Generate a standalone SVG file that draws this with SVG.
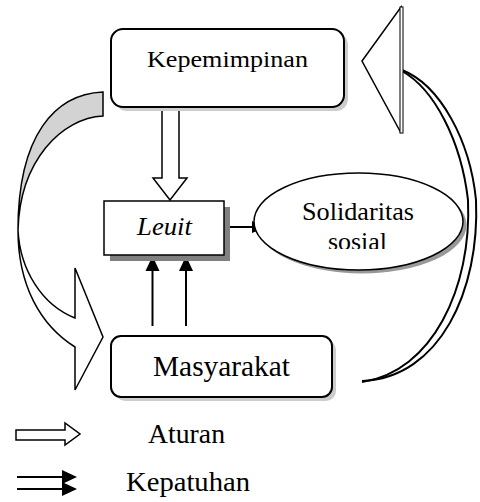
<svg xmlns="http://www.w3.org/2000/svg" width="480" height="502" viewBox="0 0 480 502">
<style>
.box{fill:#fff;stroke:#000;stroke-width:2}
.ln{fill:none;stroke:#000;stroke-width:2}
.hollow{fill:#fff;stroke:#000;stroke-width:1.5;stroke-linejoin:miter}
</style>
<defs>
<clipPath id="clipSosial"><rect x="250" y="170" width="220" height="79"/></clipPath>
</defs>
<rect width="480" height="502" fill="#fff"/>

<g id="connectors">
  <path d="M103,92 C55,94 18,135 18,230 C20,160 62,118 103,116 Z" fill="#d3d3d3" stroke="#000" stroke-width="1.5" stroke-linejoin="miter"/>
  <path d="M18,230 C18,285 40,325 75,347 L75,390 L103,337 L75,268 L75,318 C42,305 20,270 18,230 Z" fill="#fff" stroke="#000" stroke-width="1.5" stroke-linejoin="miter"/>
  <path d="M402,70 C440,85 470,140 476,200 C480,290 440,378 362,381" class="ln" stroke-width="1.8"/>
  <path d="M402,71 C434,89 461,140 468,200 C472,288 432,372 362,382" class="ln" stroke-width="1.8"/>
  <polygon points="362,61 401,7 401,133" fill="#fff" stroke="#000" stroke-width="1.5"/>
  <rect x="400" y="7" width="3" height="126" fill="#fff" stroke="#000" stroke-width="1"/>
  <polygon class="hollow" points="162,107 179,107 179,178 187,178 170,200 153,178 162,178"/>
  <line x1="152.5" y1="326" x2="152.5" y2="268" class="ln"/>
  <polygon points="145.5,271 152.5,256 159.5,271" fill="#000"/>
  <line x1="186" y1="326" x2="186" y2="268" class="ln"/>
  <polygon points="179,271 186,256 193,271" fill="#000"/>
  <line x1="224" y1="227" x2="254" y2="227" class="ln"/>
  <polygon points="252,221 267,227 252,233" fill="#000"/>
</g>

<g id="kepemimpinan">
  <rect x="115" y="33" width="233" height="78" rx="12" fill="#cccccc"/>
  <rect x="111" y="29" width="233" height="78" rx="12" class="box"/>
  <text x="147" y="67" font-family="'Liberation Serif', 'Times New Roman', serif" font-size="24" textLength="161" lengthAdjust="spacingAndGlyphs">Kepemimpinan</text>
</g>

<g id="leuit">
  <rect x="110" y="207" width="120" height="54" fill="#808080"/>
  <rect x="104" y="201" width="120" height="54" fill="#fff" stroke="#000" stroke-width="1.5"/>
  <text x="137" y="235" font-family="'Liberation Serif', 'Times New Roman', serif" font-size="25" font-style="italic" textLength="55" lengthAdjust="spacingAndGlyphs">Leuit</text>
</g>

<g id="solidaritas">
  <ellipse cx="362" cy="225" rx="104.5" ry="48.5" fill="#999"/>
  <ellipse cx="358.5" cy="221.5" rx="104.5" ry="48.5" fill="#fff" stroke="#000" stroke-width="1.5"/>
  <text x="302" y="220" font-family="'Liberation Serif', 'Times New Roman', serif" font-size="26" textLength="112" lengthAdjust="spacingAndGlyphs">Solidaritas</text>
  <text x="328" y="250" font-family="'Liberation Serif', 'Times New Roman', serif" font-size="26" textLength="59" lengthAdjust="spacingAndGlyphs" clip-path="url(#clipSosial)">sosial</text>
</g>

<g id="masyarakat">
  <rect x="115" y="340" width="221" height="61" rx="10" fill="#cccccc"/>
  <rect x="111" y="336" width="221" height="61" rx="10" class="box"/>
  <text x="153" y="376" font-family="'Liberation Serif', 'Times New Roman', serif" font-size="29" textLength="137" lengthAdjust="spacingAndGlyphs">Masyarakat</text>
</g>

<g id="legend">
  <polygon class="hollow" points="16,430 65,430 65,423 80,434 65,445 65,440 16,440"/>
  <text x="148" y="443" font-family="'Liberation Serif', 'Times New Roman', serif" font-size="27" textLength="77" lengthAdjust="spacingAndGlyphs">Aturan</text>
  <line x1="17" y1="477" x2="66" y2="477" class="ln"/>
  <polygon points="62,470 77,477 62,484" fill="#000"/>
  <line x1="17" y1="489" x2="66" y2="489" class="ln"/>
  <polygon points="62,482 77,489 62,496" fill="#000"/>
  <text x="126" y="491" font-family="'Liberation Serif', 'Times New Roman', serif" font-size="27" textLength="124" lengthAdjust="spacingAndGlyphs">Kepatuhan</text>
</g>
</svg>
